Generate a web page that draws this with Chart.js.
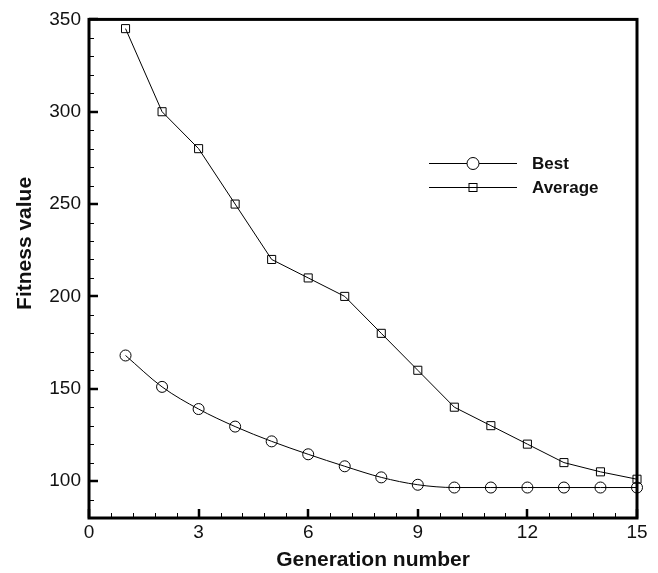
<!DOCTYPE html>
<html>
<head>
<meta charset="utf-8">
<script src="https://cdn.jsdelivr.net/npm/chart.js@4.4.1/dist/chart.umd.min.js"></script>
<style>
  html, body { margin: 0; padding: 0; background: #ffffff; }
  canvas { display: block; }
</style>
</head>
<body>
<canvas id="chart" width="658" height="573"></canvas>
<script>
// Fitness per generation of the optimisation run
const generations = [1, 2, 3, 4, 5, 6, 7, 8, 9, 10, 11, 12, 13, 14, 15];
const bestFitness = [168, 151, 139, 129.5, 121.5, 114.5, 108, 102, 98, 96.5, 96.5, 96.5, 96.5, 96.5, 96.5];
const averageFitness = [345, 300, 280, 250, 220, 210, 200, 180, 160, 140, 130, 120, 110, 105, 101];

// Axis ticks
const xTickValues = [0, 3, 6, 9, 12, 15];
const yTickValues = [100, 150, 200, 250, 300, 350];
const xMinorStep = 0.6;
const yMinorStep = 10;

const xTitle = 'Generation number';
const yTitle = 'Fitness value';

const FONT = '"Liberation Sans", Arial, Helvetica, sans-serif';

const toPoints = (ys) => generations.map((g, i) => ({ x: g, y: ys[i] }));

// Boxed frame with inward ticks on the left and bottom axes
const framePlugin = {
  id: 'frame',
  beforeDatasetsDraw(chart) {
    const { ctx, chartArea: a, scales: { x, y } } = chart;
    ctx.save();
    ctx.strokeStyle = '#000';
    // minor ticks
    ctx.lineWidth = 1;
    ctx.beginPath();
    for (let v = x.min; v <= x.max + 1e-9; v += xMinorStep) {
      const px = Math.round(x.getPixelForValue(v)) + 0.5;
      ctx.moveTo(px, a.bottom);
      ctx.lineTo(px, a.bottom - 5);
    }
    for (let v = y.min; v <= y.max + 1e-9; v += yMinorStep) {
      const py = Math.round(y.getPixelForValue(v)) + 0.5;
      ctx.moveTo(a.left, py);
      ctx.lineTo(a.left + 5, py);
    }
    ctx.stroke();
    // major ticks
    ctx.lineWidth = 2.5;
    ctx.beginPath();
    xTickValues.forEach(v => {
      const px = Math.round(x.getPixelForValue(v));
      ctx.moveTo(px, a.bottom);
      ctx.lineTo(px, a.bottom - 9);
    });
    yTickValues.forEach(v => {
      const py = Math.round(y.getPixelForValue(v));
      ctx.moveTo(a.left, py);
      ctx.lineTo(a.left + 9, py);
    });
    ctx.stroke();
    // frame
    ctx.lineWidth = 3;
    ctx.strokeRect(a.left, a.top, a.right - a.left, a.bottom - a.top);
    ctx.restore();
  },
  afterDraw(chart) {
    const { ctx, chartArea: a } = chart;
    ctx.save();
    ctx.fillStyle = '#111';
    // axis titles
    ctx.font = 'bold 21px ' + FONT;
    ctx.textAlign = 'center';
    ctx.textBaseline = 'alphabetic';
    ctx.fillText(xTitle, a.left + 284, 566);
    ctx.translate(31, a.top + 224);
    ctx.rotate(-Math.PI / 2);
    ctx.fillText(yTitle, 0, 0);
    ctx.restore();

    // legend: line with marker, then label
    ctx.save();
    const lx0 = 429, lx1 = 517, mx = 473, tx = 532;
    const rows = [163, 187];
    chart.data.datasets.forEach((ds, i) => {
      const yy = rows[i] + 0.5;
      ctx.strokeStyle = '#000';
      ctx.lineWidth = 1;
      ctx.beginPath();
      ctx.moveTo(lx0, yy);
      ctx.lineTo(lx1, yy);
      ctx.stroke();
      if (ds.pointStyle === 'circle') {
        ctx.fillStyle = '#fff';
        ctx.beginPath();
        ctx.arc(mx, yy, 6, 0, Math.PI * 2);
        ctx.fill();
        ctx.stroke();
      } else {
        ctx.strokeRect(mx - 4, yy - 4, 8, 8);
      }
      ctx.fillStyle = '#111';
      ctx.font = 'bold 17px ' + FONT;
      ctx.textAlign = 'left';
      ctx.textBaseline = 'middle';
      ctx.fillText(ds.label, tx, yy + 1);
    });
    ctx.restore();
  }
};

new Chart(document.getElementById('chart'), {
  type: 'line',
  data: {
    datasets: [
      {
        label: 'Best',
        data: toPoints(bestFitness),
        borderColor: '#000',
        borderWidth: 1,
        pointStyle: 'circle',
        pointRadius: 5.5,
        pointBorderWidth: 1,
        pointBorderColor: '#000',
        pointBackgroundColor: 'rgba(0,0,0,0)',
        cubicInterpolationMode: 'monotone',
        fill: false,
        clip: false
      },
      {
        label: 'Average',
        data: toPoints(averageFitness),
        borderColor: '#000',
        borderWidth: 1,
        pointStyle: 'rect',
        pointRadius: 5.7,
        pointBorderWidth: 1,
        pointBorderColor: '#000',
        pointBackgroundColor: 'rgba(0,0,0,0)',
        tension: 0,
        fill: false,
        clip: false
      }
    ]
  },
  options: {
    responsive: false,
    animation: false,
    layout: { padding: { top: 18, right: 21, left: 0, bottom: 0 } },
    plugins: {
      legend: { display: false },
      tooltip: { enabled: false }
    },
    scales: {
      x: {
        type: 'linear',
        min: 0,
        max: 15,
        afterBuildTicks: (s) => { s.ticks = xTickValues.map(v => ({ value: v })); },
        afterFit: (s) => { s.height = 55; },
        grid: { display: false, drawTicks: false },
        border: { display: false },
        ticks: {
          padding: 3,
          color: '#111',
          font: { family: FONT, size: 19 },
          maxRotation: 0,
          autoSkip: false,
          callback: (v) => String(v)
        }
      },
      y: {
        type: 'linear',
        min: 80,
        max: 350,
        afterBuildTicks: (s) => { s.ticks = yTickValues.map(v => ({ value: v })); },
        afterFit: (s) => { s.width = 89; },
        grid: { display: false, drawTicks: false },
        border: { display: false },
        ticks: {
          padding: 8,
          color: '#111',
          font: { family: FONT, size: 19 },
          autoSkip: false,
          callback: (v) => String(v)
        }
      }
    }
  },
  plugins: [framePlugin]
});
</script>
</body>
</html>
